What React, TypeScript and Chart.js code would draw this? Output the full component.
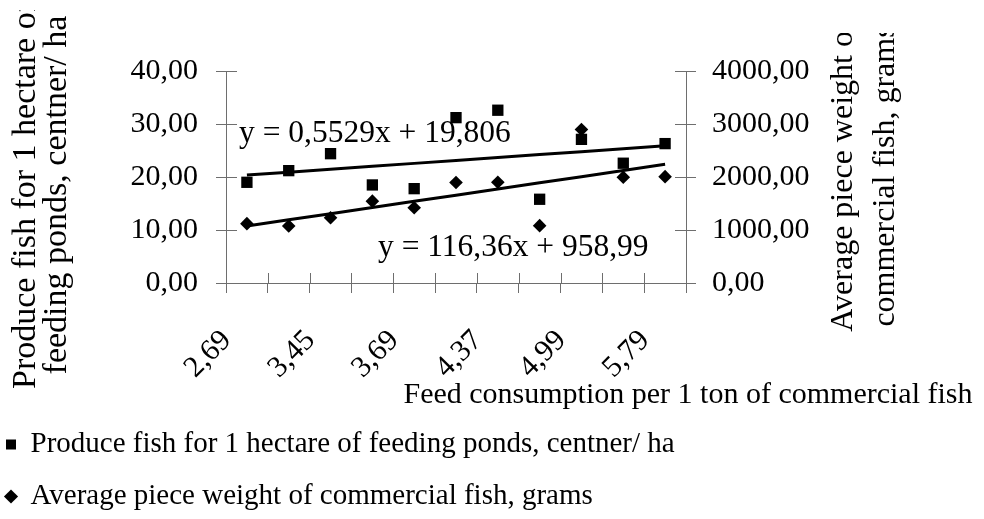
import React, { useEffect, useRef } from 'react';
import { Chart, registerables } from 'chart.js';

Chart.register(...registerables);

// ---- data ----
const categories = ['2,69', '', '3,45', '', '3,69', '', '4,37', '', '4,99', '', '5,79'];
const produceValues = [19.0, 21.2, 24.4, 18.5, 17.8, 31.2, 32.6, 15.8, 27.1, 22.6, 26.3];
const weightValues = [1120, 1075, 1232, 1544, 1420, 1895, 1900, 1082, 2895, 1994, 2007];
const produceTrendCoef = [0.5529, 19.806];
const weightTrendCoef = [116.36, 958.99];
const leftAxisRange = [0, 40, 10];
const rightAxisRange = [0, 4000, 1000];

const produceLabel = 'Produce fish for 1 hectare of feeding ponds, centner/ ha';
const weightLabel = 'Average piece weight of commercial fish, grams';
const leftTitle = ['Produce fish for 1 hectare of', 'feeding ponds, centner/ ha'];
const rightTitle = ['Average piece weight of', 'commercial fish, grams'];
const xTitle = 'Feed consumption per 1 ton of commercial fish';
const produceEquation = 'y = 0,5529x + 19,806';
const weightEquation = 'y = 116,36x + 958,99';

const produceTrend = categories.map((_, i) => produceTrendCoef[0] * (i + 1) + produceTrendCoef[1]);
const weightTrend = categories.map((_, i) => weightTrendCoef[0] * (i + 1) + weightTrendCoef[1]);

const FONT = '"Liberation Serif", "Times New Roman", serif';
const AXIS = '#6e6e6e';

const fmt = (v: number) => v.toFixed(2).replace('.', ',');

function drawRotated(ctx: CanvasRenderingContext2D, lines: string[], cx: number, cy: number, gap: number, clipTop: number, w: number, h: number) {
  ctx.save();
  ctx.beginPath();
  ctx.rect(0, clipTop, w, h);
  ctx.clip();
  ctx.translate(cx, cy);
  ctx.rotate(-Math.PI / 2);
  ctx.textAlign = 'center';
  ctx.textBaseline = 'middle';
  lines.forEach((l, i) => ctx.fillText(l, 0, (i - (lines.length - 1) / 2) * gap));
  ctx.restore();
}

const decorations = {
  id: 'decorations',
  afterDraw(chart: any) {
    const { ctx, chartArea: ca, scales } = chart;
    const xs = scales.x, yl = scales.y, yr = scales.y2;
    ctx.save();
    // inner half of crossing tick marks
    ctx.strokeStyle = AXIS;
    ctx.lineWidth = 1;
    ctx.beginPath();
    yl.ticks.forEach((t: any) => {
      const py = Math.round(yl.getPixelForValue(t.value)) + 0.5;
      ctx.moveTo(ca.left, py);
      ctx.lineTo(ca.left + 11, py);
    });
    yr.ticks.forEach((t: any) => {
      const py = Math.round(yr.getPixelForValue(t.value)) + 0.5;
      ctx.moveTo(ca.right - 11, py);
      ctx.lineTo(ca.right, py);
    });
    for (let i = 0; i <= categories.length; i++) {
      const px = Math.round(xs.getPixelForValue(i - 0.5)) + 0.5;
      ctx.moveTo(px, ca.bottom - 10);
      ctx.lineTo(px, ca.bottom);
    }
    ctx.stroke();

    ctx.fillStyle = '#000';
    // trend equations
    ctx.font = `31.5px ${FONT}`;
    ctx.textAlign = 'left';
    ctx.textBaseline = 'alphabetic';
    ctx.fillText(produceEquation, ca.left + 13, ca.top + 71);
    ctx.fillText(weightEquation, ca.left + 152, ca.top + 185);

    // axis titles
    const W = chart.width, H = chart.height;
    ctx.font = `34px ${FONT}`;
    drawRotated(ctx, leftTitle, ca.left - 184, (ca.top + ca.bottom) / 2 + 18, 31, 10, W, H);
    ctx.font = `32px ${FONT}`;
    drawRotated(ctx, rightTitle, ca.right + 179, (ca.top + ca.bottom) / 2 - 1, 42, 33, W, H);

    ctx.font = `30px ${FONT}`;
    ctx.textAlign = 'center';
    ctx.textBaseline = 'alphabetic';
    ctx.fillText(xTitle, ca.right + 2, ca.bottom + 120);
    ctx.restore();
  },
};

export default function App() {
  const ref = useRef<HTMLCanvasElement | null>(null);

  useEffect(() => {
    if (!ref.current) return;
    Chart.defaults.font.family = FONT;
    Chart.defaults.color = '#000';
    const chart = new Chart(ref.current, {
      type: 'line',
      data: {
        labels: categories,
        datasets: [
          {
            label: produceLabel,
            data: produceValues,
            yAxisID: 'y',
            showLine: false,
            pointStyle: 'rect',
            pointRadius: 8,
            pointHoverRadius: 8,
            pointBorderWidth: 0,
            backgroundColor: '#000',
            borderColor: '#000',
            pointBackgroundColor: '#000',
          },
          {
            label: weightLabel,
            data: weightValues,
            yAxisID: 'y2',
            showLine: false,
            pointStyle: 'rectRot',
            pointRadius: 6.8,
            pointHoverRadius: 6.8,
            pointBorderWidth: 0,
            backgroundColor: '#000',
            borderColor: '#000',
            pointBackgroundColor: '#000',
          },
          {
            label: 'trend produce',
            data: produceTrend,
            yAxisID: 'y',
            borderColor: '#000',
            borderWidth: 3,
            pointRadius: 0,
            fill: false,
            tension: 0,
          },
          {
            label: 'trend weight',
            data: weightTrend,
            yAxisID: 'y2',
            borderColor: '#000',
            borderWidth: 3,
            pointRadius: 0,
            fill: false,
            tension: 0,
          },
        ],
      },
      options: {
        animation: false,
        responsive: false,
        devicePixelRatio: 1,
        layout: { padding: { left: -17, right: 0, top: 71, bottom: -2 } },
        plugins: {
          tooltip: { enabled: false },
          legend: {
            position: 'bottom',
            align: 'start',
            labels: {
              usePointStyle: true,
              boxWidth: 10,
              boxHeight: 10,
              padding: 23,
              color: '#000',
              font: { family: FONT, size: 29 },
              filter: (item: any) => item.datasetIndex < 2,
            },
          },
        },
        scales: {
          x: {
            type: 'category',
            offset: true,
            grid: { display: true, drawOnChartArea: false, drawTicks: true, tickLength: 10, offset: true, color: AXIS },
            border: { display: true, color: AXIS, width: 1 },
            ticks: {
              autoSkip: false,
              maxRotation: 45,
              minRotation: 45,
              padding: 30,
              labelOffset: -20,
              color: '#000',
              font: { family: FONT, size: 30 },
            },
            afterFit: (s: any) => { s.height = 124; },
          },
          y: {
            position: 'left',
            min: leftAxisRange[0],
            max: leftAxisRange[1],
            grid: { drawOnChartArea: false, tickLength: 10, color: AXIS },
            border: { display: true, color: AXIS, width: 1 },
            ticks: {
              stepSize: leftAxisRange[2],
              padding: 18,
              color: '#000',
              font: { family: FONT, size: 30 },
              callback: (v: any) => fmt(Number(v)),
            },
            afterFit: (s: any) => { s.width = 243; },
          },
          y2: {
            position: 'right',
            min: rightAxisRange[0],
            max: rightAxisRange[1],
            grid: { drawOnChartArea: false, tickLength: 10, color: AXIS },
            border: { display: true, color: AXIS, width: 1 },
            ticks: {
              stepSize: rightAxisRange[2],
              padding: 16,
              color: '#000',
              font: { family: FONT, size: 30 },
              callback: (v: any) => fmt(Number(v)),
            },
            afterFit: (s: any) => { s.width = 298; },
          },
        },
      },
      plugins: [decorations],
    } as any);
    return () => chart.destroy();
  }, []);

  return (
    <div style={{ position: 'fixed', left: 0, top: 0, width: 984, height: 519, background: '#fff' }}>
      <canvas ref={ref} width={984} height={519} style={{ width: 984, height: 519, display: 'block' }} />
    </div>
  );
}
